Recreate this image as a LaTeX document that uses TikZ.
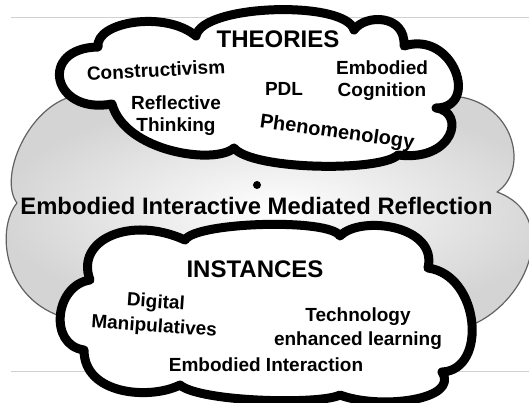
\documentclass[tikz,border=0pt]{standalone}
\usepackage{fontspec}
\setmainfont{Liberation Sans}
\begin{document}
\begin{tikzpicture}[x=1pt,y=-1pt,
  rulerline/.style={draw=black!18, line width=1pt},
  outercloud/.style={draw=black!62, line width=1.2pt, line join=round,
    inner color=white, outer color=black!17},
  bubble/.style={draw=black, line width=9pt, line join=round, fill=white},
  headtext/.style={font=\bfseries\fontsize{24}{26}\selectfont, inner sep=0pt},
  itemtext/.style={font=\bfseries\fontsize{19}{22}\selectfont, align=center, inner sep=0pt},
  maintext/.style={font=\bfseries\fontsize{23.8}{26}\selectfont, inner sep=0pt}]
\useasboundingbox (0,0) rectangle (529,403);
\fill[white] (0,0) rectangle (529,403);

% thin rules behind everything
\draw[rulerline] (11,18) -- (529,18);
\draw[rulerline] (11,371) -- (529,371);

% large grey cloud
\coordinate (g1) at (74,96);
\coordinate (g2) at (17,203);
\coordinate (g3) at (66,318);
\coordinate (g4) at (472,325);
\coordinate (g5) at (497,192);
\coordinate (g6) at (452,96);
\path[outercloud] (g1) .. controls (28,106) and (-2,178) .. (g2)
  .. controls (-4,228) and (2,300) .. (g3) -- (300,310) -- (g4)
  .. controls (530,300) and (560,215) .. (g5)
  .. controls (530,170) and (515,100) .. (g6) -- cycle;

% upper cloud
\coordinate (t1) at (112,104);
\coordinate (t2) at (98,47);
\coordinate (t3) at (196,36);
\coordinate (t4) at (354,30);
\coordinate (t5) at (404,46);
\coordinate (t6) at (436,108);
\coordinate (t7) at (398,155);
\coordinate (t8) at (234,148);
\path[bubble] (t1) .. controls (52,115) and (38,48) .. (t2)
  .. controls (95,22) and (165,10) .. (t3)
  .. controls (202,4) and (346,0) .. (t4)
  .. controls (365,14) and (406,14) .. (t5)
  .. controls (454,30) and (480,108) .. (t6)
  .. controls (466,112) and (454,162) .. (t7)
  .. controls (380,172) and (252,170) .. (t8)
  .. controls (215,165) and (125,152) .. (t1) -- cycle;

% lower cloud
\coordinate (b1) at (90,280);
\coordinate (b2) at (185,240);
\coordinate (b3) at (340,236);
\coordinate (b4) at (428,268);
\coordinate (b5) at (442,372);
\coordinate (b6) at (340,395);
\coordinate (b7) at (180,385);
\coordinate (b8) at (84,350);
\path[bubble] (b1) .. controls (75,240) and (130,215) .. (b2)
  .. controls (195,222) and (330,218) .. (b3)
  .. controls (360,215) and (438,225) .. (b4)
  .. controls (480,275) and (488,370) .. (b5)
  .. controls (460,400) and (380,410) .. (b6)
  .. controls (320,405) and (200,402) .. (b7)
  .. controls (150,400) and (84,395) .. (b8)
  .. controls (48,345) and (55,285) .. (b1) -- cycle;

% upper cloud texts
\node[headtext] (theories) at (278,39) {THEORIES};
\node[itemtext, rotate=3] (constr) at (156,70) {Constructivism};
\node[itemtext] (pdl) at (284,89) {PDL};
\node[itemtext] (embcog) at (382,81) {Embodied\\Cognition};
\node[itemtext] (refl) at (176,116) {Reflective\\Thinking};
\node[itemtext, font=\bfseries\fontsize{20}{22}\selectfont, rotate=-8] (phen) at (337,133) {Phenomenology};

% centre
\fill (257,185) circle (4);
\node[maintext] (eimr) at (256.5,206) {Embodied Interactive Mediated Reflection};

% lower cloud texts
\node[headtext] (instances) at (255,269) {INSTANCES};
\node[itemtext, font=\bfseries\fontsize{19}{24}\selectfont, rotate=-4] (digman) at (155,315) {Digital\\Manipulatives};
\node[itemtext, font=\bfseries\fontsize{19}{24}\selectfont] (tel) at (358,329) {Technology\\enhanced learning};
\node[itemtext] (embint) at (266,365) {Embodied Interaction};
\end{tikzpicture}
\end{document}
